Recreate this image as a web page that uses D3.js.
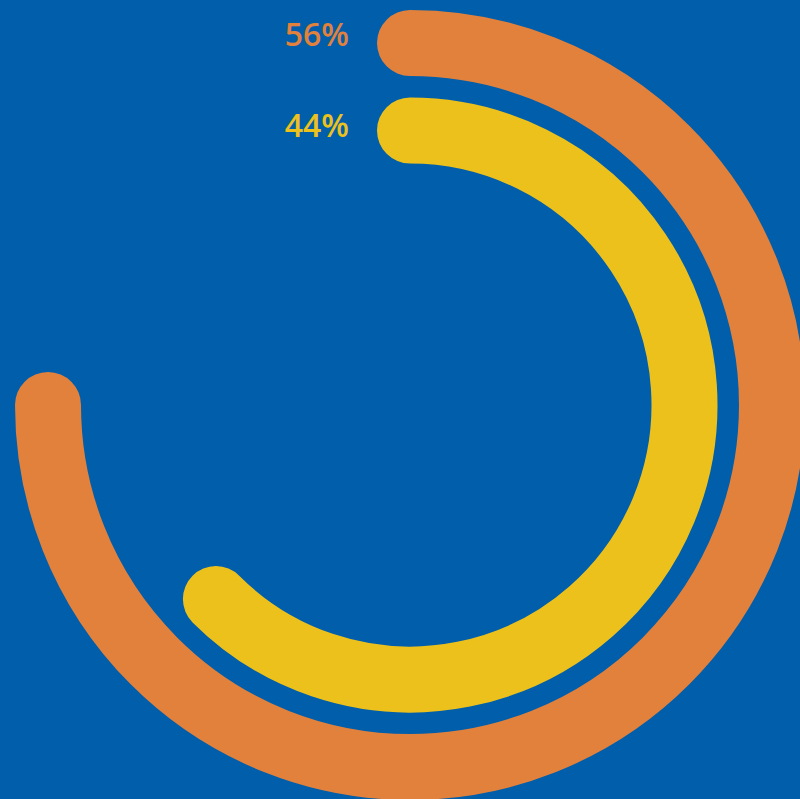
<!DOCTYPE html>
<html>
<head>
<meta charset="utf-8">
<script src="https://cdn.jsdelivr.net/npm/d3@7"></script>
<style>
    html, body { margin: 0; padding: 0; background: #005EAA; overflow: hidden; }
    svg { display: block; }
</style>
</head>
<body>
<div id="chart"></div>
<script>
    // data
    const labels = ["56%", "44%"];
    const values = [56, 44];
    // share of a full turn each ring sweeps
    const sweeps = [0.75, 0.625];
    const colors = ["#E2813C", "#EDC11C"];

    const width = 800;
    const height = 799;
    const cx = 410;
    const cy = 405;

    const svg = d3.select("#chart")
        .append("svg")
        .attr("width", width)
        .attr("height", height);

    svg.append("rect")
        .attr("width", width)
        .attr("height", height)
        .attr("fill", "#005EAA");

    const g = svg.append("g")
        .attr("transform", `translate(${cx},${cy})`);

    /* ring radius by index */
    const radius = d3.scaleLinear()
        .domain([0, 1])
        .range([362, 274.5]);

    const angle = d3.scaleLinear()
        .domain([0, 1])
        .range([0, 2 * Math.PI]);

    const rings = values.map((v, i) => ({
        value: v,
        label: labels[i],
        sweep: sweeps[i],
        color: colors[i],
        r: radius(i)
    }));

    function ringPath(d) {
        const p = d3.path();
        p.arc(0, 0, d.r, -Math.PI / 2, -Math.PI / 2 + angle(d.sweep));
        return p.toString();
    }

    g.selectAll("path.ring")
        .data(rings)
        .enter()
        .append("path")
        .attr("class", "ring")
        .attr("d", ringPath)
        .attr("fill", "none")
        .attr("stroke", d => d.color)
        .attr("stroke-width", 66)
        .attr("stroke-linecap", "round");

    g.selectAll("text.label")
        .data(rings)
        .enter()
        .append("text")
        .attr("class", "label")
        .attr("x", -61)
        .attr("y", (d, i) => -d.r + 3 + i * 3.5)
        .attr("text-anchor", "end")
        .style("font-family", "'Open Sans', Lato, sans-serif")
        .style("font-size", "32px")
        .style("font-weight", 600)
        .style("fill", d => d.color)
        .text(d => d.label);
</script>
</body>
</html>
